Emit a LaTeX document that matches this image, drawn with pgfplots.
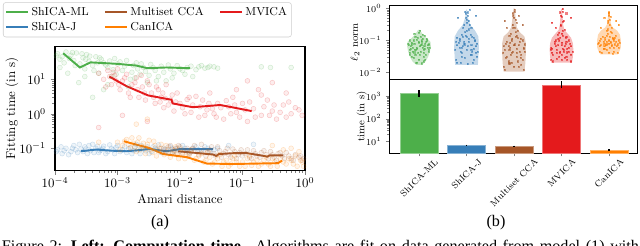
\documentclass[border=0pt]{standalone}
\usepackage{fontspec}
\usepackage{graphicx}
\usepackage{pgfplots}
\pgfplotsset{compat=1.18}
\newfontfamily\capfont{Liberation Serif}
\definecolor{cgreen}{HTML}{4DAF4A}
\definecolor{cblue}{HTML}{377EB8}
\definecolor{cbrown}{HTML}{A65628}
\definecolor{cred}{HTML}{E41A1C}
\definecolor{corange}{HTML}{FF7F00}
\pgfplotsset{
  sc/.style={only marks, mark=*, mark size=1.9pt, forget plot,
    mark options={draw=#1, fill=#1, fill opacity=0.08, draw opacity=0.22, line width=0.4pt}},
  vp/.style={only marks, mark=square*, mark size=0.42pt, forget plot,
    mark options={draw=#1, fill=#1, opacity=0.55}},
  vf/.style={fill=#1, fill opacity=0.3, draw=none, forget plot},
}
\begin{document}
\begin{tikzpicture}
\path (0pt,0pt) rectangle (499.2pt,190.32pt);
% ---------------- left panel ----------------
\begin{axis}[
  at={(42.9pt,58.5pt)}, anchor=south west,
  width=195pt, height=96.72pt, scale only axis,
  xmode=log, ymode=log,
  xmin=1e-4, xmax=1, ymin=0.023, ymax=90.6,
  xtick={1e-4,1e-3,1e-2,1e-1,1}, ytick={0.1,1,10},
  tick align=outside, tick pos=left,
  major tick length=3.5pt, minor tick length=2pt,
  axis line style={line width=0.8pt},
  xticklabel style={yshift=1.5pt},
  xlabel={Amari distance}, ylabel={Fitting time (in s)},
  xlabel style={at={(0.5,-0.234)}, anchor=center},
  ylabel style={at={(-0.172,0.5)}, anchor=center},
  legend columns=3, legend cell align=left,
  legend style={at={(-0.208,1.355)}, anchor=north west, font=\small,
    draw=black!20, rounded corners=2pt, inner sep=1.5pt,
    /tikz/every even column/.append style={column sep=10pt}},
]
% scatter clouds
\addplot[sc=cgreen] coordinates {(1.1e-4,55)(1.3e-4,45)(1.5e-4,62)(1.2e-4,38)(1.8e-4,50)(2e-4,35)(2.2e-4,58)(2.5e-4,28)(2.8e-4,42)(3e-4,20)(3.2e-4,52)(3.5e-4,33)(4e-4,25)(4.5e-4,45)(5e-4,15)(5.5e-4,38)(6e-4,30)(7e-4,22)(8e-4,12)(9e-4,40)(1e-3,28)(1.2e-3,18)(1.4e-3,35)(1.6e-3,10)(1.8e-3,25)(2e-3,30)(2.3e-3,14)(2.6e-3,22)(3e-3,8)(3.4e-3,27)(4e-3,18)(4.5e-3,12)(5e-3,24)(6e-3,9)(7e-3,20)(8e-3,15)(9e-3,25)(1.1e-2,18)(1.3e-2,22)(1.6e-2,12)(2e-2,23)(2.5e-2,21)(3e-2,24)(1.6e-4,15)(2.4e-4,8)(6e-4,5)(4e-4,3)(1.5e-3,6)(0.2,23)(0.28,22)(0.6,22)
(1.05e-4,48)(1.4e-4,30)(1.7e-4,40)(1.9e-4,60)(2.1e-4,25)(2.7e-4,55)(3.1e-4,38)(3.6e-4,47)(4.2e-4,18)(4.8e-4,30)(5.2e-4,42)(6.5e-4,26)(7.5e-4,34)(8.5e-4,19)(9.5e-4,14)(1.1e-3,32)(1.3e-3,24)(1.7e-3,16)(1.9e-3,11)(2.1e-3,20)(2.4e-3,28)(2.8e-3,17)(3.2e-3,13)(3.7e-3,22)(4.2e-3,9)(5.5e-3,16)(6.5e-3,26)(7.5e-3,11)(1e-2,20)(1.2e-2,14)(1.5e-2,24)(1.8e-2,19)(2.2e-2,25)(2.8e-2,22)(3.5e-2,23)(4e-2,21)(1.2e-4,22)(3e-4,12)(7e-4,7)};
\addplot[sc=cred] coordinates {(5e-4,15)(6e-4,10)(7e-4,18)(8e-4,7)(9e-4,13)(1e-3,20)(1.1e-3,5)(1.2e-3,9)(1.4e-3,14)(1.5e-3,4)(1.7e-3,7)(2e-3,11)(2.2e-3,3)(2.5e-3,6)(2.8e-3,2.5)(3e-3,9)(3.5e-3,4)(4e-3,2)(4.5e-3,5)(5e-3,3)(5.5e-3,1.5)(6e-3,7)(7e-3,2.5)(8e-3,1.2)(9e-3,4)(1e-2,2)(1.2e-2,1)(1.4e-2,3)(1.6e-2,1.8)(2e-2,0.8)(2.3e-2,2.5)(2.7e-2,1.3)(3e-2,4)(3.5e-2,1)(4e-2,2)(5e-2,0.7)(6e-2,1.6)(7e-2,3)(8e-2,1.1)(0.1,2)(0.12,0.6)(0.15,1.4)(0.18,5)(0.2,0.9)(0.25,2.5)(0.3,1.2)(0.35,0.7)(0.45,1.8)(0.6,1)(0.8,1.3)(0.3,8)(0.12,9)(1.2e-3,0.9)(5e-4,0.4)(3e-3,0.6)
(6.5e-4,6)(7.5e-4,12)(8.5e-4,16)(9.5e-4,9)(1.05e-3,7)(1.3e-3,11)(1.6e-3,3)(1.9e-3,8)(2.1e-3,5)(2.4e-3,13)(2.7e-3,4)(3.2e-3,7)(3.8e-3,3)(4.2e-3,6)(4.8e-3,2.2)(5.3e-3,4)(5.8e-3,2.8)(6.5e-3,1.8)(7.5e-3,3.5)(8.5e-3,2.2)(1.1e-2,1.5)(1.3e-2,2.6)(1.5e-2,1.1)(1.8e-2,3.2)(2.1e-2,1.6)(2.5e-2,0.9)(2.9e-2,2)(3.3e-2,1.4)(3.8e-2,0.8)(4.5e-2,1.5)(5.5e-2,2.4)(6.5e-2,1)(7.5e-2,1.8)(9e-2,0.8)(0.11,1.3)(0.13,2.2)(0.16,0.8)(0.22,1.6)(0.27,0.9)(0.32,1.8)(0.4,1.1)(0.5,0.8)(0.55,2.2)(0.7,1.5)(0.9,0.9)(0.5,4)(0.2,3.5)(0.08,5)};
\addplot[sc=cblue] coordinates {(1.1e-4,0.09)(1.3e-4,0.07)(1.5e-4,0.1)(1.8e-4,0.08)(2e-4,0.12)(2.3e-4,0.075)(2.6e-4,0.095)(3e-4,0.11)(3.3e-4,0.07)(3.7e-4,0.085)(4e-4,0.13)(4.5e-4,0.1)(5e-4,0.075)(5.5e-4,0.09)(6e-4,0.115)(7e-4,0.08)(8e-4,0.1)(9e-4,0.07)(1e-3,0.12)(1.2e-3,0.09)(1.4e-3,0.075)(1.6e-3,0.105)(1.8e-3,0.085)(2e-3,0.13)(2.3e-3,0.07)(2.6e-3,0.095)(3e-3,0.11)(3.5e-3,0.08)(4e-3,0.1)(4.5e-3,0.125)(5e-3,0.075)(6e-3,0.09)(7e-3,0.11)(8e-3,0.08)(9e-3,0.1)(1.1e-2,0.12)(1.3e-2,0.085)(1.6e-2,0.1)(2e-2,0.09)(2.5e-2,0.11)(3e-2,0.08)(4e-2,0.1)(6e-2,0.12)(0.15,0.13)
(1.05e-4,0.08)(1.25e-4,0.11)(1.4e-4,0.085)(1.65e-4,0.065)(1.9e-4,0.1)(2.15e-4,0.09)(2.45e-4,0.13)(2.8e-4,0.08)(3.1e-4,0.095)(3.5e-4,0.12)(4.2e-4,0.075)(4.8e-4,0.115)(5.2e-4,0.085)(5.8e-4,0.1)(6.5e-4,0.07)(7.5e-4,0.125)(8.5e-4,0.09)(9.5e-4,0.105)(1.1e-3,0.08)(1.3e-3,0.11)(1.5e-3,0.095)(1.7e-3,0.07)(1.9e-3,0.11)(2.1e-3,0.09)(2.4e-3,0.12)(2.8e-3,0.085)(3.2e-3,0.07)(3.7e-3,0.11)(4.3e-3,0.09)(5.5e-3,0.1)(6.5e-3,0.075)(7.5e-3,0.095)(1e-2,0.085)(1.2e-2,0.1)(1.4e-2,0.075)(1.8e-2,0.11)(2.2e-2,0.085)(2.8e-2,0.1)(3.5e-2,0.09)};
\addplot[sc=corange] coordinates {(1e-3,0.15)(1.2e-3,0.12)(1.4e-3,0.18)(1.6e-3,0.1)(1.8e-3,0.14)(2e-3,0.08)(2.2e-3,0.2)(2.5e-3,0.11)(2.8e-3,0.07)(3e-3,0.13)(3.4e-3,0.09)(3.8e-3,0.16)(4.2e-3,0.06)(4.7e-3,0.1)(5.2e-3,0.075)(6e-3,0.12)(7e-3,0.055)(8e-3,0.085)(9e-3,0.065)(1e-2,0.1)(1.2e-2,0.05)(1.4e-2,0.07)(1.7e-2,0.045)(2e-2,0.06)(2.4e-2,0.04)(2.8e-2,0.08)(3.3e-2,0.035)(4e-2,0.05)(4.7e-2,0.03)(5.5e-2,0.045)(6.5e-2,0.035)(7.5e-2,0.06)(9e-2,0.03)(0.1,0.04)(0.12,0.05)(0.14,0.032)(0.17,0.045)(0.2,0.035)(0.24,0.055)(0.28,0.03)(0.33,0.04)(0.4,0.05)(0.5,0.035)(0.6,0.045)(0.75,0.03)(0.9,0.04)(2e-3,0.5)(3e-3,0.7)(5e-4,0.15)(0.3,0.12)(0.6,0.1)
(1.1e-3,0.09)(1.3e-3,0.16)(1.5e-3,0.13)(1.7e-3,0.2)(1.9e-3,0.11)(2.1e-3,0.15)(2.3e-3,0.09)(2.6e-3,0.14)(2.9e-3,0.1)(3.2e-3,0.17)(3.6e-3,0.075)(4e-3,0.12)(4.5e-3,0.085)(5e-3,0.13)(5.6e-3,0.065)(6.5e-3,0.09)(7.5e-3,0.07)(8.5e-3,0.11)(9.5e-3,0.05)(1.1e-2,0.075)(1.3e-2,0.06)(1.5e-2,0.09)(1.8e-2,0.05)(2.2e-2,0.07)(2.6e-2,0.045)(3e-2,0.055)(3.6e-2,0.04)(4.3e-2,0.065)(5e-2,0.04)(6e-2,0.03)(7e-2,0.05)(8e-2,0.04)(0.11,0.03)(0.13,0.06)(0.15,0.04)(0.18,0.03)(0.22,0.045)(0.26,0.035)(0.3,0.05)(0.36,0.03)(0.45,0.04)(0.55,0.05)(0.65,0.035)(0.7,0.06)(0.85,0.045)(0.95,0.03)(0.8,0.08)(0.45,0.09)};
\addplot[sc=cbrown] coordinates {(5e-3,0.1)(6e-3,0.08)(7e-3,0.12)(8e-3,0.09)(9e-3,0.07)(1e-2,0.11)(1.2e-2,0.085)(1.4e-2,0.065)(1.6e-2,0.1)(1.9e-2,0.08)(2.2e-2,0.13)(2.6e-2,0.06)(3e-2,0.09)(3.5e-2,0.07)(4e-2,0.11)(4.6e-2,0.055)(5.3e-2,0.08)(6e-2,0.065)(7e-2,0.095)(8e-2,0.05)(9e-2,0.075)(0.1,0.06)(0.12,0.09)(0.14,0.05)(0.16,0.07)(0.19,0.055)(0.22,0.085)(0.26,0.05)(0.3,0.065)(0.35,0.045)(0.4,0.075)(0.47,0.05)(0.55,0.06)(0.65,0.045)(0.8,0.055)(0.95,0.05)
(5.5e-3,0.09)(6.5e-3,0.11)(7.5e-3,0.075)(8.5e-3,0.1)(9.5e-3,0.12)(1.1e-2,0.07)(1.3e-2,0.1)(1.5e-2,0.08)(1.7e-2,0.12)(2e-2,0.065)(2.4e-2,0.09)(2.8e-2,0.075)(3.2e-2,0.11)(3.7e-2,0.06)(4.3e-2,0.085)(5e-2,0.07)(5.7e-2,0.1)(6.5e-2,0.055)(7.5e-2,0.08)(8.5e-2,0.065)(9.5e-2,0.09)(0.11,0.07)(0.13,0.055)(0.15,0.085)(0.17,0.06)(0.2,0.075)(0.24,0.065)(0.28,0.08)(0.32,0.055)(0.37,0.07)(0.43,0.06)(0.5,0.075)(0.6,0.05)(0.7,0.065)(0.85,0.06)(0.9,0.045)};
% median lines
\addplot[cgreen, line width=1.5pt] coordinates {(1.35e-4,57)(2.5e-4,22)(3.7e-4,31)(1e-3,28)(2e-3,25)(3e-3,21)(6e-3,22)(1.45e-2,21)};
\addlegendentry{ShICA-ML}
\addplot[cbrown, line width=1.5pt] coordinates {(9.3e-3,0.082)(3.4e-2,0.066)(3.8e-2,0.06)(4.2e-2,0.068)(7.1e-2,0.072)(0.12,0.072)(0.22,0.06)(0.25,0.057)(0.27,0.062)(0.45,0.062)};
\addlegendentry{Multiset CCA}
\addplot[cred, line width=1.5pt] coordinates {(7.4e-4,12)(1.4e-3,6.3)(3.1e-3,3.4)(6.9e-3,2.6)(7.3e-3,2.6)(7.6e-3,2.0)(1.6e-2,1.55)(4.4e-2,1.8)(0.14,1.2)};
\addlegendentry{MVICA}
\addplot[cblue, line width=1.5pt] coordinates {(2.6e-4,0.082)(4.6e-4,0.092)(8e-4,0.085)(1.4e-3,0.082)(3.3e-3,0.095)(6.1e-3,0.082)(1e-2,0.095)(3.4e-2,0.095)};
\addlegendentry{ShICA-J}
\addplot[corange, line width=1.5pt] coordinates {(1.26e-3,0.16)(3.3e-3,0.1)(5.4e-3,0.068)(1.3e-2,0.055)(2.7e-2,0.036)(7.1e-2,0.035)(0.37,0.037)(0.43,0.044)};
\addlegendentry{CanICA}
\end{axis}
% ---------------- right top: violins ----------------
\begin{axis}[
  at={(303.42pt,129.48pt)}, anchor=south west,
  width=193.44pt, height=57.72pt, scale only axis,
  ymode=log, xmin=-0.632, xmax=4.59, ymin=0.006, ymax=1.24,
  xtick=\empty, ytick={0.01,0.1,1},
  tick align=outside, ytick pos=left,
  major tick length=2.5pt, minor tick length=1.4pt,
  axis line style={line width=0.7pt},
  ticklabel style={font=\scriptsize},
  ylabel={$\ell_2$ norm},
  ylabel style={font=\footnotesize, at={(-0.137,0.5)}, anchor=center},
]
\addplot[vf=cgreen] coordinates {(-0.06,0.017)(-0.14,0.022)(-0.19,0.03)(-0.23,0.045)(-0.25,0.065)(-0.24,0.09)(-0.15,0.12)(-0.07,0.16)(-0.02,0.21)(0.02,0.21)(0.07,0.16)(0.15,0.12)(0.24,0.09)(0.25,0.065)(0.23,0.045)(0.19,0.03)(0.14,0.022)(0.06,0.017)};
\addplot[vf=cblue] coordinates {(0.76,0.017)(0.75,0.03)(0.74,0.06)(0.75,0.13)(0.82,0.2)(0.92,0.3)(0.96,0.45)(0.98,0.6)(0.99,0.9)(1.01,0.9)(1.02,0.6)(1.04,0.45)(1.08,0.3)(1.18,0.2)(1.25,0.13)(1.26,0.06)(1.25,0.03)(1.24,0.017)};
\addplot[vf=cbrown] coordinates {(1.78,0.0105)(1.76,0.02)(1.75,0.04)(1.75,0.08)(1.78,0.13)(1.88,0.18)(1.94,0.25)(1.96,0.4)(1.975,0.7)(1.99,1.0)(2.01,1.0)(2.025,0.7)(2.04,0.4)(2.06,0.25)(2.12,0.18)(2.22,0.13)(2.25,0.08)(2.25,0.04)(2.24,0.02)(2.22,0.0105)};
\addplot[vf=cred] coordinates {(2.78,0.02)(2.76,0.03)(2.75,0.05)(2.76,0.08)(2.8,0.12)(2.87,0.16)(2.94,0.21)(2.965,0.3)(2.975,0.5)(2.99,0.95)(3.01,0.95)(3.025,0.5)(3.035,0.3)(3.06,0.21)(3.13,0.16)(3.2,0.12)(3.24,0.08)(3.25,0.05)(3.24,0.03)(3.22,0.02)};
\addplot[vf=corange] coordinates {(3.82,0.036)(3.78,0.045)(3.75,0.06)(3.75,0.1)(3.77,0.15)(3.83,0.2)(3.92,0.25)(3.96,0.32)(3.975,0.5)(3.99,0.8)(4.01,0.8)(4.025,0.5)(4.04,0.32)(4.08,0.25)(4.17,0.2)(4.23,0.15)(4.25,0.1)(4.25,0.06)(4.22,0.045)(4.18,0.036)};
\addplot[vp=cgreen] coordinates {(-0.15,0.03)(0.1,0.04)(-0.05,0.06)(0.18,0.07)(-0.2,0.05)(0.05,0.1)(-0.1,0.08)(0.12,0.055)(0,0.025)(-0.08,0.035)(0.15,0.09)(-0.18,0.065)(0.03,0.045)(-0.03,0.12)(0.08,0.15)(-0.12,0.1)(0.2,0.05)(0.02,0.2)(-0.06,0.02)(0.1,0.03)(-0.22,0.07)(0.06,0.075)(-0.14,0.045)(0.16,0.11)(0,0.085)(-0.04,0.055)(0.22,0.06)(0.04,0.13)(-0.1,0.16)(0.09,0.022)(-0.02,0.04)(0.13,0.08)(-0.16,0.085)(0.07,0.06)(-0.09,0.05)
(-0.12,0.028)(0.14,0.035)(-0.2,0.04)(0.2,0.045)(-0.06,0.05)(0.11,0.065)(-0.16,0.075)(0.04,0.07)(-0.01,0.09)(0.17,0.1)(-0.2,0.1)(0.07,0.11)(-0.08,0.13)(0.12,0.14)(0,0.17)(-0.04,0.02)(0.05,0.019)(-0.13,0.06)(0.21,0.075)(-0.23,0.08)(0.09,0.05)(-0.1,0.042)(0.01,0.035)(0.18,0.06)(-0.17,0.055)(0.06,0.09)(-0.05,0.105)(0.13,0.025)(-0.2,0.035)(0.02,0.065)};
\addplot[vp=cblue] coordinates {(0.8,0.02)(1.15,0.025)(0.9,0.03)(1.2,0.04)(1,0.05)(0.85,0.06)(1.1,0.07)(0.95,0.09)(1.18,0.1)(0.8,0.12)(1.05,0.11)(0.9,0.15)(1.12,0.13)(1,0.2)(0.95,0.3)(1.05,0.4)(1.02,0.6)(0.97,0.8)(1.1,0.25)(0.88,0.045)(1.22,0.08)(0.78,0.09)(1.08,0.035)(0.98,0.14)(1.15,0.055)(0.92,0.065)(1.03,0.018)(1.2,0.6)(0.82,0.5)(1.07,0.9)(0.96,0.075)(1.12,0.045)(0.86,0.1)(1.01,0.35)(0.99,0.5)
(0.78,0.025)(1.22,0.03)(0.9,0.04)(1.1,0.05)(0.8,0.07)(1.2,0.065)(0.95,0.08)(1.05,0.09)(0.85,0.11)(1.15,0.12)(0.92,0.13)(1.08,0.15)(0.97,0.18)(1.04,0.22)(0.93,0.25)(1.06,0.3)(1,0.45)(0.98,0.7)(1.03,0.75)(0.76,0.05)(1.24,0.045)(0.88,0.02)(1.13,0.02)(0.83,0.085)(1.17,0.095)(1,0.13)(0.9,0.06)(1.1,0.035)(0.96,0.028)(1.02,0.065)};
\addplot[vp=cbrown] coordinates {(1.8,0.012)(2.1,0.015)(1.95,0.02)(2.18,0.025)(1.85,0.03)(2.05,0.04)(1.9,0.05)(2.2,0.06)(2,0.07)(1.82,0.08)(2.12,0.09)(1.95,0.1)(2.08,0.12)(1.9,0.14)(2.03,0.18)(1.98,0.25)(2.05,0.35)(2,0.5)(1.97,0.7)(2.02,0.9)(1.8,0.4)(2.18,0.3)(2.15,0.017)(1.88,0.022)(2.22,0.045)(1.78,0.065)(2.06,0.055)(1.93,0.035)(2.1,0.6)(1.85,0.25)(2.01,0.075)(1.97,0.045)(2.14,0.028)(1.92,0.085)(2.04,0.13)
(1.78,0.015)(2.2,0.012)(1.9,0.018)(2.08,0.022)(1.82,0.028)(2.15,0.035)(1.95,0.04)(2.05,0.03)(1.8,0.05)(2.2,0.055)(1.92,0.06)(2.1,0.07)(1.85,0.09)(2.18,0.1)(1.96,0.11)(2.06,0.14)(1.93,0.16)(2.08,0.2)(1.97,0.3)(2.03,0.45)(2.02,0.8)(1.98,0.6)(1.9,0.02)(2.12,0.045)(1.77,0.04)(2.23,0.075)(2,0.015)(1.88,0.065)(2.14,0.11)(2.01,0.25)};
\addplot[vp=cred] coordinates {(2.82,0.022)(3.12,0.025)(2.95,0.03)(3.2,0.035)(2.8,0.04)(3.05,0.045)(2.9,0.05)(3.15,0.06)(3,0.07)(2.85,0.08)(3.1,0.09)(2.95,0.1)(3.08,0.12)(2.92,0.15)(3.02,0.2)(2.98,0.3)(3.04,0.4)(3,0.55)(2.97,0.75)(3.02,0.95)(3.2,0.5)(2.8,0.35)(3.18,0.08)(2.78,0.06)(3.06,0.028)(2.88,0.065)(3.12,0.042)(3.03,0.055)(3.1,0.7)(2.88,0.25)(2.97,0.045)(3,0.035)(3.07,0.065)(2.93,0.11)(3.01,0.16)
(2.78,0.025)(3.2,0.022)(2.9,0.027)(3.1,0.03)(2.82,0.035)(3.15,0.045)(2.96,0.04)(3.04,0.05)(2.8,0.055)(3.2,0.065)(2.93,0.07)(3.08,0.08)(2.86,0.09)(3.15,0.1)(2.97,0.12)(3.03,0.14)(2.95,0.17)(3.06,0.21)(2.98,0.28)(3.03,0.38)(2.99,0.6)(3.02,0.8)(2.9,0.04)(3.12,0.055)(2.77,0.05)(3.23,0.045)(3,0.025)(2.88,0.1)(3.1,0.13)(3.01,0.085)};
\addplot[vp=corange] coordinates {(3.85,0.04)(4.1,0.045)(3.95,0.05)(4.2,0.06)(3.8,0.065)(4.05,0.07)(3.9,0.08)(4.15,0.09)(4,0.1)(3.82,0.11)(4.12,0.12)(3.95,0.14)(4.06,0.17)(3.97,0.22)(4.02,0.3)(3.98,0.4)(4.03,0.55)(4,0.75)(4.2,0.3)(3.82,0.25)(4.18,0.075)(3.78,0.085)(4.08,0.038)(3.88,0.055)(4.1,0.1)(4.04,0.085)(3.92,0.12)(4.15,0.4)(3.9,0.5)(4.05,0.065)(4,0.08)(3.95,0.09)(4.07,0.11)(3.93,0.07)(4.01,0.06)
(3.8,0.045)(4.18,0.04)(3.9,0.055)(4.1,0.06)(3.83,0.07)(4.16,0.065)(3.96,0.075)(4.04,0.09)(3.8,0.095)(4.2,0.1)(3.92,0.105)(4.08,0.12)(3.86,0.13)(4.14,0.14)(3.97,0.16)(4.03,0.19)(3.95,0.2)(4.06,0.25)(3.98,0.35)(4.02,0.45)(4,0.6)(3.99,0.7)(3.9,0.065)(4.12,0.075)(3.77,0.08)(4.23,0.085)(4,0.04)(3.88,0.09)(4.1,0.11)(4.01,0.13)};
\end{axis}
% ---------------- right bottom: bars ----------------
\begin{axis}[
  at={(303.42pt,71.76pt)}, anchor=south west,
  width=193.44pt, height=57.72pt, scale only axis,
  ymode=log, log origin=infty,
  xmin=-0.632, xmax=4.59, ymin=2.93, ymax=5700,
  xtick={0,1,2,3,4},
  xticklabels={\rotatebox{45}{ShICA-ML},\rotatebox{45}{ShICA-J},\rotatebox{45}{Multiset CCA},\rotatebox{45}{MVICA},\rotatebox{45}{CanICA}},
  xticklabel style={anchor=north, inner sep=1pt},
  ytick={10,100,1000},
  tick align=outside, tick pos=left,
  major tick length=2.5pt, minor tick length=1.4pt,
  axis line style={line width=0.7pt},
  ticklabel style={font=\scriptsize},
  ylabel={time (in s)},
  ylabel style={font=\footnotesize, at={(-0.11,0.5)}, anchor=center},
  error bars/error bar style={line width=1.3pt, black},
  error bars/error mark=none,
]
\addplot[ybar, bar width=0.8, bar shift=0pt, fill=cgreen, draw=cgreen!60!white, line width=0.5pt,
  error bars/.cd, y dir=both, y explicit] coordinates {(0,1300) += (0,550) -= (0,400)};
\addplot[ybar, bar width=0.8, bar shift=0pt, fill=cblue, draw=cblue!60!white, line width=0.5pt,
  error bars/.cd, y dir=both, y explicit] coordinates {(1,6.6) += (0,0.5) -= (0,0.5)};
\addplot[ybar, bar width=0.8, bar shift=0pt, fill=cbrown, draw=cbrown!60!white, line width=0.5pt,
  error bars/.cd, y dir=both, y explicit] coordinates {(2,6.0) += (0,0.45) -= (0,0.4)};
\addplot[ybar, bar width=0.8, bar shift=0pt, fill=cred, draw=cred!60!white, line width=0.5pt,
  error bars/.cd, y dir=both, y explicit] coordinates {(3,3100) += (0,1500) -= (0,840)};
\addplot[ybar, bar width=0.8, bar shift=0pt, fill=corange, draw=corange!60!white, line width=0.5pt,
  error bars/.cd, y dir=both, y explicit] coordinates {(4,4.0) += (0,0.35) -= (0,0.3)};
\end{axis}
% ---------------- subcaptions and caption ----------------
\node[anchor=center, font=\capfont\fontsize{12.6}{15}\selectfont] at (124.8pt,18pt) {(a)};
\node[anchor=center, font=\capfont\fontsize{12.6}{15}\selectfont] at (386.9pt,18pt) {(b)};
\begin{pgfinterruptboundingbox}
\node[anchor=base west, inner sep=0pt, font=\capfont\fontsize{12.6}{15}\selectfont] at (1.2pt,-4.6pt)
  {\hbox to 497pt{Figure 2: \textbf{Left: Computation time.} Algorithms are fit on data generated from model (1) with}};
\end{pgfinterruptboundingbox}
\end{tikzpicture}
\end{document}
